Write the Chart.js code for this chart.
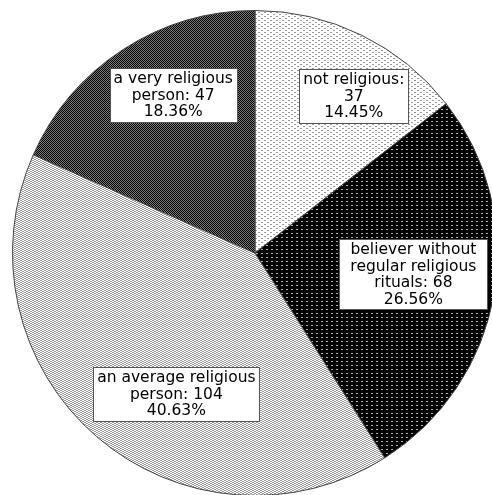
<!DOCTYPE html>
<html>
<head>
<meta charset="utf-8">
<script src="https://cdn.jsdelivr.net/npm/chart.js@4/dist/chart.umd.min.js"></script>
<style>
  html, body { margin: 0; padding: 0; background: #fff; overflow: hidden; width: 492px; height: 495px; }
  #wrap { position: absolute; left: 0; top: 0; width: 510px; height: 506px; }
</style>
</head>
<body>
<div id="wrap"><canvas id="c" width="510" height="506"></canvas></div>
<script>
// ---- data ----
const categories = ["not religious", "believer without regular religious rituals", "an average religious person", "a very religious person"];
const counts = [37, 68, 104, 47];
const percentLabels = ["14.45%", "26.56%", "40.63%", "18.36%"];
const labelLines = [
  ["not religious:", "37"],
  ["believer without", "regular religious", "rituals: 68"],
  ["an average religious", "person: 104"],
  ["a very religious", "person: 47"]
];

// ---- label placement (styling, not data) ----
const labelPlacement = [
  { shift: 6.1, frac: 0.766, minW: 0 },
  { shift: -2.2, frac: 0.659, minW: 148 },
  { shift: -11.6, frac: 0.665, minW: 0 },
  { shift: 5.65, frac: 0.733, minW: 0 }
];

function makePattern(w, h, bg, dots) {
  const c = document.createElement('canvas');
  c.width = w; c.height = h;
  const g = c.getContext('2d');
  g.fillStyle = bg; g.fillRect(0, 0, w, h);
  dots.forEach(d => { g.fillStyle = d[4]; g.fillRect(d[0], d[1], d[2], d[3]); });
  return g.createPattern(c, 'repeat');
}
const patterns = [
  makePattern(6, 4, '#ffffff', [[0, 0, 2, 1, '#9a9a9a'], [3, 2, 2, 1, '#9a9a9a']]),
  makePattern(5, 4, '#000000', [[1, 1, 2, 1, '#b0b0b0']]),
  makePattern(4, 2, '#ffffff', [[0, 0, 2, 1, '#9c9c9c'], [2, 1, 2, 1, '#9c9c9c']]),
  makePattern(2, 2, '#000000', [[1, 0, 1, 1, '#7a7a7a'], [0, 1, 1, 1, '#7a7a7a']])
];

const boxLabels = {
  id: 'boxLabels',
  afterDatasetsDraw(chart) {
    const ctx = chart.ctx;
    const meta = chart.getDatasetMeta(0);
    ctx.save();
    ctx.font = '15.5px "DejaVu Sans"';
    ctx.textAlign = 'center';
    ctx.textBaseline = 'middle';
    const lh = 16.5, padX = 4, padY = 2;
    meta.data.forEach((arc, i) => {
      const p = arc.getProps(['x', 'y', 'startAngle', 'endAngle', 'outerRadius'], true);
      const mid = (p.startAngle + p.endAngle) / 2 + labelPlacement[i].shift * Math.PI / 180;
      const r = p.outerRadius * labelPlacement[i].frac;
      const cx = p.x + Math.cos(mid) * r;
      const cy = p.y + Math.sin(mid) * r;
      const lines = labelLines[i].concat([percentLabels[i]]);
      let w = 0;
      lines.forEach(t => { w = Math.max(w, ctx.measureText(t).width); });
      const bw = Math.max(labelPlacement[i].minW, Math.round(w + padX * 2));
      const bh = Math.round(lines.length * lh + padY * 2);
      const bx = Math.round(cx - bw / 2) + 0.5, by = Math.round(cy - bh / 2) + 0.5;
      ctx.fillStyle = '#ffffff';
      ctx.fillRect(bx, by, bw, bh);
      ctx.strokeStyle = '#555555';
      ctx.lineWidth = 1;
      ctx.strokeRect(bx, by, bw, bh);
      ctx.fillStyle = '#000000';
      lines.forEach((t, k) => {
        ctx.fillText(t, cx, by + padY + lh * k + lh / 2 + 0.5);
      });
    });
    ctx.restore();
  }
};

new Chart(document.getElementById('c'), {
  type: 'pie',
  data: {
    labels: categories,
    datasets: [{
      data: counts,
      backgroundColor: patterns,
      borderColor: '#444444',
      borderWidth: 1
    }]
  },
  options: {
    responsive: false,
    animation: false,
    layout: { padding: { left: 12, right: 12, top: 10, bottom: 10 } },
    plugins: { legend: { display: false }, tooltip: { enabled: false } }
  },
  plugins: [boxLabels]
});
</script>
</body>
</html>
